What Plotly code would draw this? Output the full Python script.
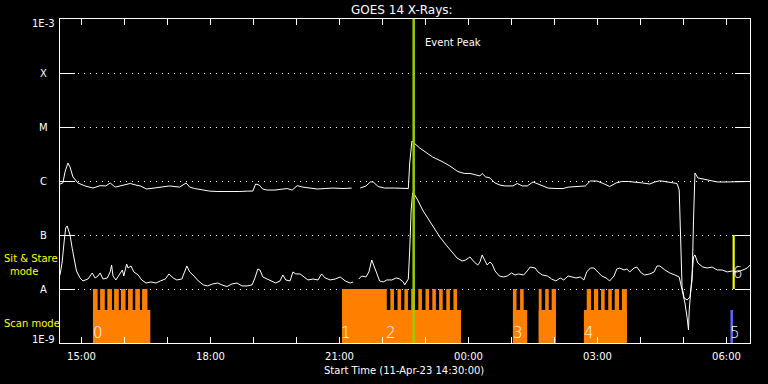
import pandas as pd
import plotly.graph_objects as go

START = "2023-04-11 14:30:00"
X_END_MIN = 962.8

# GOES long channel (1-8 A), minutes after start / flux W m^-2
long_min = [0, 4, 7, 11, 14, 18, 25, 35, 46, 56,
            64, 70, 77, 87, 98, 106, 112, 121, 133, 142,
            153, 167, 176, 181, 188, 200, 209, 219, 230, 241,
            251, 262, 269, 273, 278, 283, 289, 300, 310, 317,
            324, 331, 339, 349, 359, 370, 381, 395, 407, 413,
            419, 427, 433, 437, 444, 453, 467, 479, 486, 488,
            491, 494, 502, 512, 520, 533, 544, 555, 564, 572,
            580, 586, 589, 594, 600, 607, 614, 621, 632, 638,
            645, 652, 660, 670, 681, 692, 702, 709, 720, 733,
            740, 749, 758, 767, 776, 784, 793, 804, 813, 823,
            830, 837, 851, 861, 864, 866, 868, 871, 875, 879,
            882, 884, 886, 890, 897, 903, 917, 931, 949, 963]
long_flux = [8.8e-7, 9.2e-7, 1.47e-6, 2.16e-6, 1.82e-6, 1.19e-6, 9.2e-7, 8.1e-7, 7.4e-7, 8.2e-7,
             8.1e-7, 9.2e-7, 7.7e-7, 8.4e-7, 9.0e-7, 8.4e-7, 8.1e-7, 7.1e-7, 7.4e-7, 7.7e-7,
             8.1e-7, 7.7e-7, 9.2e-7, 7.7e-7, 7.25e-7, 6.8e-7, 6.5e-7, 6.4e-7, 6.4e-7, 6.25e-7,
             6.4e-7, 6.5e-7, 6.5e-7, 8.8e-7, 8.4e-7, 7.1e-7, 6.8e-7, 6.8e-7, 7.1e-7, 7.25e-7,
             6.8e-7, 8.2e-7, 7.7e-7, 7.4e-7, 7.1e-7, 7.25e-7, 7.4e-7, 7.25e-7, 7.4e-7, None,
             7.4e-7, 8.1e-7, 9.6e-7, 9.6e-7, 7.9e-7, 7.4e-7, 7.4e-7, 7.4e-7, 7.25e-7, 2.16e-6,
             5.5e-6, 5.06e-6, 4.08e-6, 3.3e-6, 2.78e-6, 2.3e-6, 1.9e-6, 1.5e-6, 1.38e-6, 1.38e-6,
             1.29e-6, 1.24e-6, 1.38e-6, 1.19e-6, 1.14e-6, 9.2e-7, 8.4e-7, 8.1e-7, 8.1e-7, 9.0e-7,
             8.1e-7, 8.1e-7, 9.6e-7, 8.4e-7, 7.4e-7, 7.25e-7, 7.25e-7, 7.7e-7, 7.9e-7, 8.1e-7,
             1.0e-6, 1.0e-6, 9.0e-7, 7.9e-7, 9.2e-7, 9.8e-7, 9.8e-7, 9.6e-7, 9.2e-7, 8.8e-7,
             9.6e-7, 1.01e-6, 9.6e-7, 9.0e-7, 6.8e-7, 1.24e-7, 1.09e-8, 6.8e-9, 6.25e-9, 7.1e-9,
             1.47e-8, 1.9e-7, 1.41e-6, 1.14e-6, 1.09e-6, 1.045e-6, 9.6e-7, 9.6e-7, 9.6e-7, 9.8e-7]

# GOES short channel (0.5-4 A)
short_min = [0, 3, 6, 8, 10, 14, 17, 20, 23, 28,
             32, 39, 45, 49, 53, 56, 60, 66, 70, 72,
             74, 78, 82, 87, 89, 93, 95, 99, 103, 109,
             114, 120, 127, 134, 140, 147, 152, 158, 163, 170,
             177, 181, 187, 193, 200, 206, 213, 220, 226, 233,
             240, 247, 254, 261, 268, 272, 276, 279, 283, 289,
             294, 301, 307, 311, 315, 321, 325, 329, 335, 340,
             346, 353, 360, 365, 370, 377, 384, 391, 398, 405,
             409, 413, 417, 421, 427, 431, 435, 438, 442, 446,
             451, 456, 463, 469, 474, 479, 481, 486, 488, 490,
             492, 495, 499, 506, 513, 520, 530, 539, 547, 554,
             561, 566, 572, 578, 583, 586, 589, 594, 596, 600,
             603, 607, 613, 619, 624, 630, 635, 640, 647, 652,
             656, 663, 667, 673, 680, 686, 692, 698, 703, 709,
             714, 720, 726, 731, 735, 740, 745, 751, 756, 762,
             767, 773, 777, 781, 787, 791, 795, 801, 805, 811,
             816, 823, 829, 833, 837, 844, 851, 858, 864, 868,
             872, 875, 877, 878, 880, 884, 886, 890, 897, 903,
             910, 917, 924, 931, 938, 945, 953, 959, 963]
short_flux = [1.82e-8, 3.16e-8, 8.1e-8, 1.35e-7, 1.47e-7, 1.0e-7, 5.7e-8, 3.44e-8, 2.16e-8, 1.6e-8,
              1.41e-8, 1.53e-8, 1.98e-8, 1.6e-8, 1.74e-8, 1.98e-8, 1.53e-8, 1.6e-8, 2.07e-8, 2.78e-8,
              1.74e-8, 1.47e-8, 1.74e-8, 2.25e-8, 1.74e-8, 2.9e-8, 2.45e-8, 2.67e-8, 2.07e-8, 1.82e-8,
              1.47e-8, 1.29e-8, 1.35e-8, 1.29e-8, 1.41e-8, 1.53e-8, 1.9e-8, 1.6e-8, 1.47e-8, 1.53e-8,
              2.67e-8, 2.07e-8, 1.74e-8, 1.41e-8, 1.19e-8, 1.14e-8, 1.24e-8, 1.29e-8, 1.19e-8, 1.11e-8,
              1.24e-8, 1.29e-8, 1.14e-8, 1.14e-8, 1.19e-8, 1.6e-8, 2.35e-8, 2.25e-8, 1.67e-8, 1.53e-8,
              1.47e-8, 1.29e-8, 1.41e-8, 1.82e-8, 1.47e-8, 1.41e-8, 2.07e-8, 1.9e-8, 1.9e-8, 1.67e-8,
              1.47e-8, 1.53e-8, 1.47e-8, 1.9e-8, 1.6e-8, 1.47e-8, 1.53e-8, 1.67e-8, 1.41e-8, 1.29e-8,
              1.35e-8, None, 1.53e-8, 1.74e-8, 1.67e-8, 2.07e-8, 3.44e-8, 2.67e-8, 1.9e-8, 1.41e-8,
              1.35e-8, 1.47e-8, 1.47e-8, 1.6e-8, 1.53e-8, 1.35e-8, 1.19e-8, 1.53e-8, 5.3e-8, 2.9e-7,
              6.0e-7, 5.5e-7, 4.45e-7, 2.9e-7, 2.07e-7, 1.47e-7, 9.2e-8, 6.5e-8, 4.84e-8, 3.75e-8,
              3.3e-8, 3.44e-8, 3.92e-8, 3.16e-8, 2.78e-8, 3.16e-8, 4.27e-8, 3.16e-8, 2.78e-8, 3.16e-8,
              2.9e-8, 2.16e-8, 1.74e-8, 1.67e-8, 1.74e-8, 1.98e-8, 1.82e-8, 1.9e-8, 1.82e-8, 2.16e-8,
              2.55e-8, 2.45e-8, 2.07e-8, 1.82e-8, 1.74e-8, 1.53e-8, 1.41e-8, 1.6e-8, 1.47e-8, 1.74e-8,
              1.67e-8, 1.6e-8, 1.67e-8, 1.47e-8, 2.07e-8, 2.45e-8, 2.45e-8, 2.07e-8, 1.74e-8, 1.6e-8,
              1.41e-8, 1.74e-8, 2.35e-8, 2.45e-8, 2.25e-8, 2.35e-8, 2.07e-8, 2.45e-8, 2.55e-8, 1.98e-8,
              1.82e-8, 1.9e-8, 2.07e-8, 2.67e-8, 2.67e-8, 2.25e-8, 1.98e-8, 1.82e-8, 1.67e-8, 9.6e-9,
              5.5e-9, 3.0e-9, 1.74e-9, 4.1e-9, 9.6e-9, 3.92e-8, 4.27e-8, 3.03e-8, 2.55e-8, 2.45e-8,
              2.55e-8, 2.25e-8, 2.25e-8, 2.07e-8, 2.16e-8, 2.07e-8, 2.25e-8, 2.45e-8, 2.78e-8]

assert len(long_min) == len(long_flux)
assert len(short_min) == len(short_flux)

# Scan mode blocks (minutes after start)
scan_base_start = [46, 393.5, 632, 668, 731]
scan_base_end = [126, 559.5, 652, 692, 791]
scan_full_start = [46, 56, 66, 75.5, 85, 95, 105, 114.5,
                   393.5, 461, 471, 480.5, 490, 500, 510, 519.5, 529, 539, 549,
                   632, 642, 668, 677, 686,
                   735, 745, 755, 765, 774, 784]
scan_full_end = [52.5, 62.5, 72.5, 82, 91.5, 101.5, 111.5, 122,
                 456, 466, 476, 485.5, 495, 505, 515, 524.5, 534, 544, 554,
                 637, 647, 672, 682, 692,
                 741, 751, 760, 770, 780, 791]
scan_base_top = 4.08e-9
scan_full_top = 1.0e-8
band_bottom = 1.0e-9

blue_start, blue_end = [935.5], [939]
sit_start, sit_end = [938.5], [941.5]
sit_bottom, sit_top = 1.0e-8, 1.0e-7

event_peak_min = 493.5

mode_labels = ["0", "1", "2", "3", "4", "5", "6"]
mode_label_min = [53, 399.5, 462, 639, 738, 942, 945.5]
mode_label_logy = [-8.815, -8.815, -8.815, -8.815, -8.815, -8.815, -7.704]

y_tick_vals = [1e-9, 1e-8, 1e-7, 1e-6, 1e-5, 1e-4, 1e-3]
y_tick_text = ["1E-9", "A", "B", "C", "M", "X", "1E-3"]
y_tick_log = [-8.926, -8, -7, -6, -5, -4, -3.083]

x_tick_hours = list(range(16))  # hours after 15:00
x_label_every = 3

t0 = pd.Timestamp(START)


def tm(m):
    return t0 + pd.to_timedelta(m, unit="min")


def band(starts, ends, lo, hi):
    xs, ys = [], []
    for s, e in zip(starts, ends):
        xs += [tm(s), tm(s), tm(e), tm(e), tm(s), None]
        ys += [lo, hi, hi, lo, lo, None]
    return xs, ys


fig = go.Figure()
ORANGE = "#ff8000"

for starts, ends, top in [(scan_base_start, scan_base_end, scan_base_top),
                          (scan_full_start, scan_full_end, scan_full_top)]:
    bx, by = band(starts, ends, band_bottom, top)
    fig.add_trace(go.Scatter(x=bx, y=by, mode="lines", fill="toself",
                             fillcolor=ORANGE, line=dict(width=0, color=ORANGE),
                             hoverinfo="skip"))

bx, by = band(blue_start, blue_end, band_bottom, scan_base_top)
fig.add_trace(go.Scatter(x=bx, y=by, mode="lines", fill="toself",
                         fillcolor="#6464ff", line=dict(width=0, color="#6464ff")))

fig.add_trace(go.Scatter(x=[tm(m) for m in long_min], y=long_flux, mode="lines",
                         line=dict(color="white", width=1), connectgaps=False))
fig.add_trace(go.Scatter(x=[tm(m) for m in short_min], y=short_flux, mode="lines",
                         line=dict(color="white", width=1), connectgaps=False))

bx, by = band(sit_start, sit_end, sit_bottom, sit_top)
fig.add_trace(go.Scatter(x=bx, y=by, mode="lines", fill="toself",
                         fillcolor="#ffff00", line=dict(width=0, color="#ffff00")))

fig.add_trace(go.Scatter(x=[tm(event_peak_min)] * 2, y=[1e-9, 1e-3], mode="lines",
                         line=dict(color="#99cc00", width=2.5)))

FONT = "DejaVu Sans"
tickvals = [tm(30 + 60 * h) for h in x_tick_hours]
ticktext = [tm(30 + 60 * h).strftime("%H:%M") if h % x_label_every == 0 else ""
            for h in x_tick_hours]

fig.update_xaxes(type="date", range=[tm(0), tm(X_END_MIN)], showgrid=False,
                 showline=True, linecolor="white", linewidth=1, mirror="ticks",
                 ticks="inside", ticklen=6, tickcolor="white", tickwidth=1,
                 tickvals=tickvals, ticktext=ticktext,
                 tickfont=dict(family=FONT, size=10, color="white"),
                 ticklabelstandoff=4, zeroline=False)
fig.update_yaxes(type="log", range=[-9, -3], showgrid=True, gridcolor="white",
                 gridwidth=1, griddash="1px,5px", tickvals=y_tick_vals,
                 showticklabels=False, ticks="inside", ticklen=15,
                 tickcolor="white", tickwidth=1, showline=True, linecolor="white",
                 linewidth=1, mirror="ticks", zeroline=False)

ann = []
for txt, ly in zip(y_tick_text, y_tick_log):
    if txt.startswith("1E"):
        ann.append(dict(x=-0.0045, xref="paper", y=ly, yref="y", text=txt,
                        xanchor="right", yanchor="middle", showarrow=False,
                        font=dict(family=FONT, size=10, color="white")))
    else:
        ann.append(dict(x=-0.0239, xref="paper", y=ly, yref="y", text=txt,
                        xanchor="center", yanchor="middle", showarrow=False,
                        font=dict(family=FONT, size=10, color="white")))

YEL = "#ffff00"
ann += [
    dict(x=-0.0841, xref="paper", y=-7.426, yref="y", text="Sit & Stare",
         xanchor="left", yanchor="middle", showarrow=False,
         font=dict(family=FONT, size=10, color=YEL)),
    dict(x=-0.0522, xref="paper", y=-7.667, yref="y", text="mode",
         xanchor="center", yanchor="middle", showarrow=False,
         font=dict(family=FONT, size=10, color=YEL)),
    dict(x=-0.0841, xref="paper", y=-8.648, yref="y", text="Scan mode",
         xanchor="left", yanchor="middle", showarrow=False,
         font=dict(family=FONT, size=10, color=YEL)),
    dict(x=tm(506.5), xref="x", y=-3.444, yref="y", text="Event Peak",
         xanchor="left", yanchor="middle", showarrow=False,
         font=dict(family=FONT, size=10, color="white")),
    dict(x=0.4957, xref="paper", y=1.029, yref="paper", text="GOES 14 X-Rays:",
         xanchor="center", yanchor="middle", showarrow=False,
         font=dict(family=FONT, size=12, color="white")),
    dict(x=0.4986, xref="paper", y=-0.0835, yref="paper",
         text="Start Time (11-Apr-23 14:30:00)",
         xanchor="center", yanchor="middle", showarrow=False,
         font=dict(family=FONT, size=10, color="white")),
]
for lab, m, ly in zip(mode_labels, mode_label_min, mode_label_logy):
    ann.append(dict(x=tm(m), xref="x", y=ly, yref="y", text=lab,
                    xanchor="center", yanchor="middle", showarrow=False,
                    font=dict(family=FONT, size=15, color="white", weight=200)))

fig.update_layout(width=768, height=384, paper_bgcolor="black",
                  plot_bgcolor="black", showlegend=False,
                  margin=dict(l=60, r=18, t=19, b=41),
                  annotations=ann, hovermode=False)

fig.write_html("out.html")
